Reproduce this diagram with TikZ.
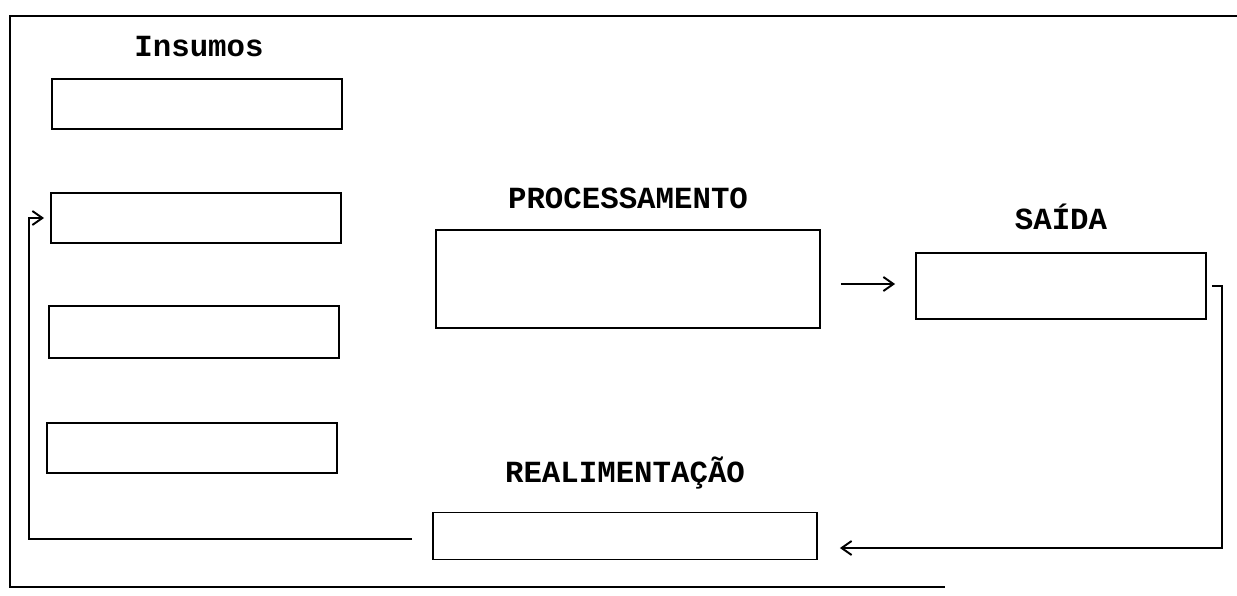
\documentclass[tikz,border=0pt]{standalone}
\usepackage{fontspec}
\setmonofont{Liberation Mono}
\usetikzlibrary{positioning,arrows.meta}

\tikzset{
  caixa/.style={draw, line width=1.1pt, minimum width=5.8cm, minimum height=1cm, inner sep=0pt},
  rotulo/.style={font=\ttfamily\bfseries\fontsize{17.5}{20}\selectfont},
  liga/.style={line width=1.1pt, -{Straight Barb[length=2mm, width=2.8mm]}}
}

\begin{document}
\begin{tikzpicture}[x=0.02cm, y=-0.02cm]
    \useasboundingbox (0,0) rectangle (1237,595);
    \draw[line width=1.3pt] (1237,16) -- (10,16) -- (10,587) -- (945,587);

    \node[rotulo] (insumos) at (199,47) {Insumos};
    \node[caixa] (in1) at (197,104) {};
    \node[caixa] (in2) at (196,218) {};
    \node[caixa, minimum height=1.05cm] (in3) at (194,332) {};
    \node[caixa] (in4) at (192,448) {};

    \node[caixa, minimum width=7.68cm, minimum height=1.96cm] (proc) at (628,279) {};
    \node[rotulo, above=0.28cm of proc] (tproc) {PROCESSAMENTO};

    \node[caixa, minimum height=1.32cm] (saida) at (1061,286) {};
    \node[rotulo, above=0.32cm of saida] (tsaida) {SAÍDA};

    \node[caixa, minimum width=7.68cm, minimum height=0.94cm] (realim) at (625,536) {};
    \node[rotulo, above=0.32cm of realim] (trealim) {REALIMENTAÇÃO};

    \coordinate (c1) at (1222,548);
    \coordinate (c2) at (29,539);

    \draw[liga, shorten <=0.4cm, shorten >=0.4cm] (proc.east |- 0,284) -- (saida.west |- 0,284);
    \draw[liga, shorten <=0.1cm, shorten >=0.44cm] (saida.east) -| (c1) -- (c1 -| realim.east);
    \draw[liga, shorten >=0.12cm] ([xshift=-0.4cm]realim.west |- c2) -- (c2) |- (in2.west);
\end{tikzpicture}
\end{document}
